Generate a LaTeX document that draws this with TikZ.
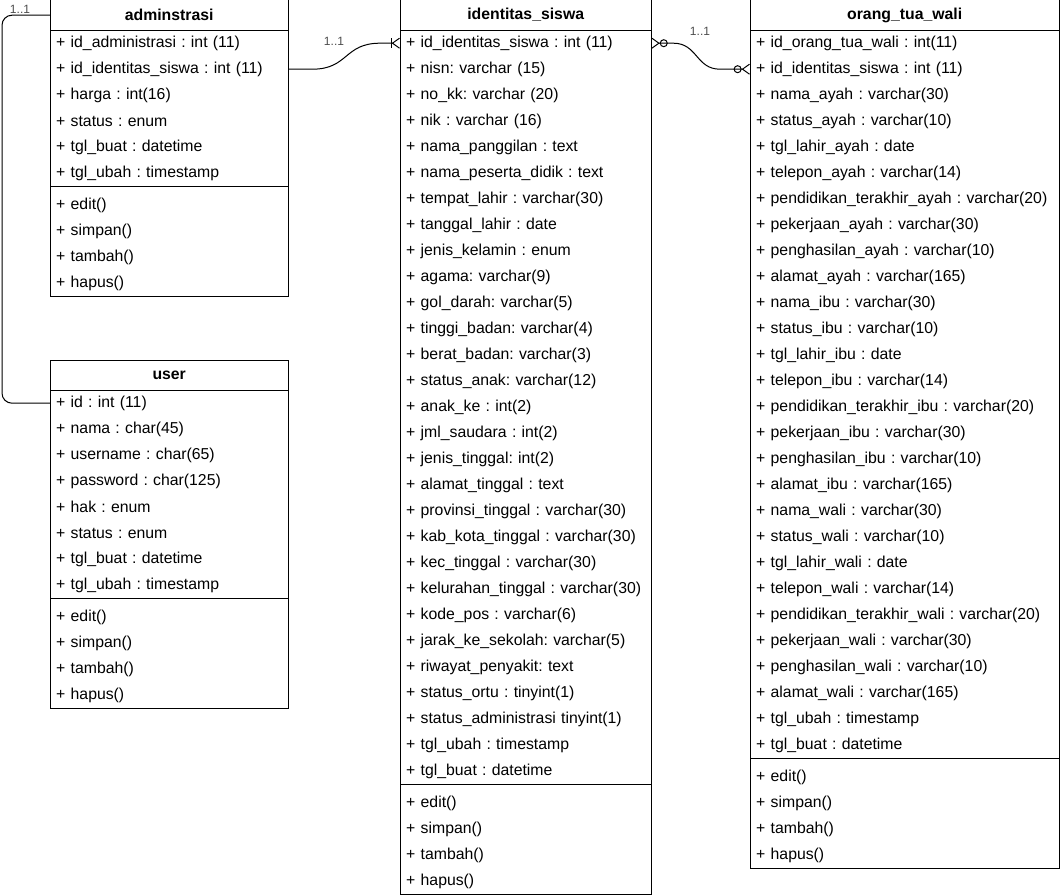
\documentclass[tikz,border=0pt]{standalone}
\usepackage{fontspec}
\setmainfont{Liberation Sans}
\usepackage{xcolor}
\usepackage{tikz}
\usetikzlibrary{arrows.meta,positioning,calc}
\definecolor{labelgray}{HTML}{4D4D4D}
\frenchspacing

\begin{document}
\begin{tikzpicture}[
  x=1pt, y=-1pt,
  classhead/.style={rectangle, anchor=north west, minimum width=#1, minimum height=30pt, inner sep=0pt, font=\fontsize{15.8}{18}\selectfont\bfseries},
  member/.style={rectangle, anchor=north west, text width=#1, inner xsep=6pt, inner ysep=0pt, minimum height=26pt, align=left, font=\fontsize{15.8}{18}\selectfont},
  frame/.style={draw=black, line width=1pt},
  conn/.style={draw=black, line width=1pt},
  mult/.style={inner sep=1pt, text=labelgray, font=\fontsize{12}{14}\selectfont},
  onemany/.style={-{Bar[width=10pt,sep=0pt] Straight Barb[reversed,length=7pt,width=10pt]}},
  zeromany/.style={{Straight Barb[reversed,length=7pt,width=10pt] Circle[open,length=8pt,width=8pt]}-{Circle[open,length=8pt,width=8pt] Straight Barb[reversed,length=7pt,width=10pt]}}
]
\useasboundingbox (0,0) rectangle (1061,896);

\node[classhead=238pt] (adm) at (50,0) {adminstrasi};
\foreach \txt [count=\i] in {id\_administrasi : int (11), id\_identitas\_siswa : int (11), harga : int(16),
  status : enum, tgl\_buat : datetime, tgl\_ubah : timestamp}
  \node[member=226pt] (adm-\i) at (50,{30+26*(\i-1)}) {+ \txt};
\foreach \txt [count=\i] in {edit(), simpan(), tambah(), hapus()}
  \node[member=226pt] (adm-m\i) at (50,{192+26*(\i-1)}) {+ \txt};
\draw[frame] (adm.north west) rectangle (adm-m4.south east);
\draw[frame] (adm.south west) -- (adm.south east);
\draw[frame] (adm-6.south west) -- (adm-6.south east);

\node[classhead=238pt] (user) at (50,360) {user};
\foreach \txt [count=\i] in {id : int (11), nama : char(45), username : char(65), password : char(125),
  hak : enum, status : enum, tgl\_buat : datetime, tgl\_ubah : timestamp}
  \node[member=226pt] (user-\i) at (50,{390+26*(\i-1)}) {+ \txt};
\foreach \txt [count=\i] in {edit(), simpan(), tambah(), hapus()}
  \node[member=226pt] (user-m\i) at (50,{604+26*(\i-1)}) {+ \txt};
\draw[frame] (user.north west) rectangle (user-m4.south east);
\draw[frame] (user.south west) -- (user.south east);
\draw[frame] (user-8.south west) -- (user-8.south east);

\node[classhead=251pt] (ids) at (400,0) {identitas\_siswa};
\foreach \txt [count=\i] in {id\_identitas\_siswa : int (11), nisn: varchar (15), no\_kk: varchar (20),
  nik : varchar (16), nama\_panggilan : text, nama\_peserta\_didik : text, tempat\_lahir : varchar(30),
  tanggal\_lahir : date, jenis\_kelamin : enum, agama: varchar(9), gol\_darah: varchar(5),
  tinggi\_badan: varchar(4), berat\_badan: varchar(3), status\_anak: varchar(12), anak\_ke : int(2),
  jml\_saudara : int(2), jenis\_tinggal: int(2), alamat\_tinggal : text, provinsi\_tinggal : varchar(30),
  kab\_kota\_tinggal : varchar(30), kec\_tinggal : varchar(30), kelurahan\_tinggal : varchar(30),
  kode\_pos : varchar(6), jarak\_ke\_sekolah: varchar(5), riwayat\_penyakit: text,
  status\_ortu : tinyint(1), status\_administrasi tinyint(1), tgl\_ubah : timestamp, tgl\_buat : datetime}
  \node[member=239pt] (ids-\i) at (400,{30+26*(\i-1)}) {+ \txt};
\foreach \txt [count=\i] in {edit(), simpan(), tambah(), hapus()}
  \node[member=239pt] (ids-m\i) at (400,{790+26*(\i-1)}) {+ \txt};
\draw[frame] (ids.north west) rectangle (ids-m4.south east);
\draw[frame] (ids.south west) -- (ids.south east);
\draw[frame] (ids-29.south west) -- (ids-29.south east);

\node[classhead=309pt] (ortu) at (750,0) {orang\_tua\_wali};
\foreach \txt [count=\i] in {id\_orang\_tua\_wali : int(11), id\_identitas\_siswa : int (11),
  nama\_ayah : varchar(30), status\_ayah : varchar(10), tgl\_lahir\_ayah : date, telepon\_ayah : varchar(14),
  pendidikan\_terakhir\_ayah : varchar(20), pekerjaan\_ayah : varchar(30), penghasilan\_ayah : varchar(10),
  alamat\_ayah : varchar(165), nama\_ibu : varchar(30), status\_ibu : varchar(10), tgl\_lahir\_ibu : date,
  telepon\_ibu : varchar(14), pendidikan\_terakhir\_ibu : varchar(20), pekerjaan\_ibu : varchar(30),
  penghasilan\_ibu : varchar(10), alamat\_ibu : varchar(165), nama\_wali : varchar(30),
  status\_wali : varchar(10), tgl\_lahir\_wali : date, telepon\_wali : varchar(14),
  pendidikan\_terakhir\_wali : varchar(20), pekerjaan\_wali : varchar(30), penghasilan\_wali : varchar(10),
  alamat\_wali : varchar(165), tgl\_ubah : timestamp, tgl\_buat : datetime}
  \node[member=297pt] (ortu-\i) at (750,{30+26*(\i-1)}) {+ \txt};
\foreach \txt [count=\i] in {edit(), simpan(), tambah(), hapus()}
  \node[member=297pt] (ortu-m\i) at (750,{764+26*(\i-1)}) {+ \txt};
\draw[frame] (ortu.north west) rectangle (ortu-m4.south east);
\draw[frame] (ortu.south west) -- (ortu.south east);
\draw[frame] (ortu-28.south west) -- (ortu-28.south east);

\draw[conn, rounded corners=10pt] (adm.west) -- ++(-48,0) |- (user-1.west);
\draw[conn, onemany] (adm-2.east) -- ++(24,0) .. controls +(36,0) and +(-36,0) .. ([xshift=-20pt]ids-1.west) -- (ids-1.west);
\draw[conn, zeromany] (ortu-2.west) -- ++(-30,0) .. controls +(-24,0) and +(24,0) .. ([xshift=22pt]ids-1.east) -- (ids-1.east);

\node[mult] (mAU) at (20,9) {1..1};
\node[mult] (mAI) at (334,41) {1..1};
\node[mult] (mIO) at (700,31) {1..1};
\end{tikzpicture}
\end{document}
